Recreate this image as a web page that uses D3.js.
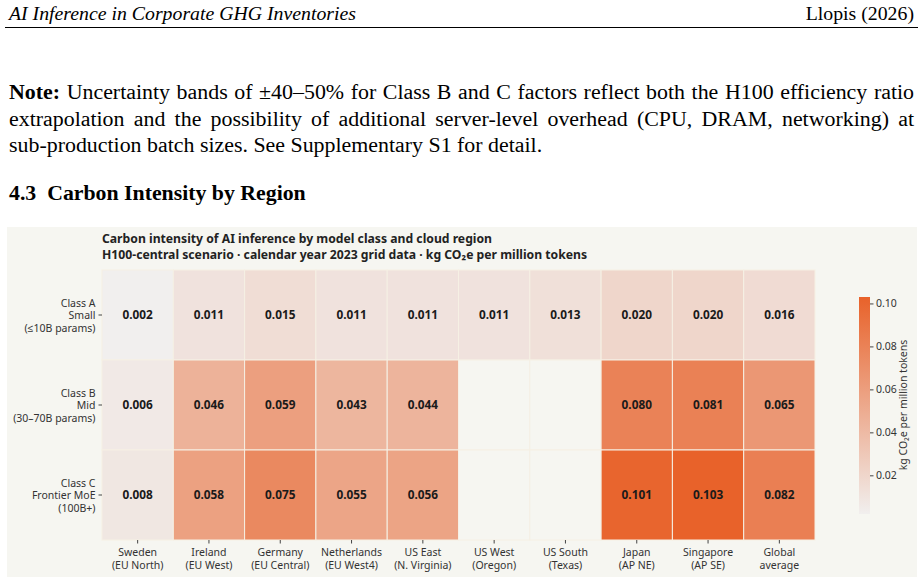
<!DOCTYPE html>
<html>
<head>
<meta charset="utf-8">
<script src="https://cdn.jsdelivr.net/npm/d3@7"></script>
<style>
  html, body { margin: 0; padding: 0; background: #fff; }
  svg { display: block; }
</style>
</head>
<body>
<div id="page"></div>
<script>
// chart data
const regions = [
  ["Sweden", "(EU North)"], ["Ireland", "(EU West)"], ["Germany", "(EU Central)"],
  ["Netherlands", "(EU West4)"], ["US East", "(N. Virginia)"], ["US West", "(Oregon)"],
  ["US South", "(Texas)"], ["Japan", "(AP NE)"], ["Singapore", "(AP SE)"], ["Global", "average"]
];
const classes = [
  ["Class A", "Small", "(≤10B params)"],
  ["Class B", "Mid", "(30–70B params)"],
  ["Class C", "Frontier MoE", "(100B+)"]
];
const classA = [0.002, 0.011, 0.015, 0.011, 0.011, 0.011, 0.013, 0.020, 0.020, 0.016];
const classB = [0.006, 0.046, 0.059, 0.043, 0.044, null, null, 0.080, 0.081, 0.065];
const classC = [0.008, 0.058, 0.075, 0.055, 0.056, null, null, 0.101, 0.103, 0.082];
const colorTicks = [0.02, 0.04, 0.06, 0.08, 0.10];

const noteLines = [
  "Uncertainty bands of ±40–50% for Class B and C factors reflect both the H100 efficiency ratio",
  "extrapolation and the possibility of additional server-level overhead (CPU, DRAM, networking) at",
  "sub-production batch sizes. See Supplementary S1 for detail."
];

const W = 923, H = 577;
const serif = "'Liberation Serif', 'Times New Roman', serif";
const sans = "'Noto Sans', 'Open Sans', sans-serif";

const svg = d3.select('#page').append('svg')
  .attr('width', W)
  .attr('height', H);

// ---- page header ----
svg.append('text')
  .attr('x', 9).attr('y', 20)
  .style('font-family', serif).style('font-style', 'italic').style('font-size', '19.8px')
  .text('AI Inference in Corporate GHG Inventories');
svg.append('text')
  .attr('x', 914).attr('y', 20)
  .attr('text-anchor', 'end')
  .style('font-family', serif).style('font-size', '19.8px')
  .text('Llopis (2026)');
svg.append('line')
  .attr('x1', 5).attr('x2', 918).attr('y1', 27.5).attr('y2', 27.5)
  .attr('stroke', '#000').attr('stroke-width', 1);

// ---- note paragraph, justified by word spacing ----
const noteBase = [99, 126, 152];
noteLines.forEach((line, i) => {
  const t = svg.append('text')
    .attr('x', 9).attr('y', noteBase[i])
    .style('font-family', serif).style('font-size', '21.9px');
  if (i === 0) {
    t.append('tspan').style('font-weight', 'bold').text('Note:');
    t.append('tspan').text(' ' + line);
  } else {
    t.text(line);
  }
  if (i < noteLines.length - 1) {
    const natural = t.node().getComputedTextLength();
    const spaces = (i === 0 ? 'Note: ' + line : line).split(' ').length - 1;
    t.style('word-spacing', ((905 - natural) / spaces) + 'px');
  }
});

// ---- section heading ----
svg.append('text')
  .attr('x', 9).attr('y', 200)
  .attr('xml:space', 'preserve')
  .style('font-family', serif).style('font-weight', 'bold').style('font-size', '21.8px')
  .text('4.3  Carbon Intensity by Region');

// ---- figure ----
const fig = svg.append('g');
fig.append('rect')
  .attr('x', 7).attr('y', 227).attr('width', 910).attr('height', H - 227)
  .attr('fill', '#f6f6f1');

fig.append('text')
  .attr('x', 102).attr('y', 243)
  .style('font-family', sans).style('font-weight', 'bold').style('font-size', '12.2px')
  .style('fill', '#222')
  .text('Carbon intensity of AI inference by model class and cloud region');
fig.append('text')
  .attr('x', 102).attr('y', 258.5)
  .style('font-family', sans).style('font-weight', 'bold').style('font-size', '12.2px')
  .style('fill', '#222')
  .text('H100-central scenario · calendar year 2023 grid data · kg CO₂e per million tokens');

const x = d3.scaleBand()
  .domain(d3.range(regions.length))
  .range([102, 815]);
const y = d3.scaleBand()
  .domain(d3.range(classes.length))
  .range([270, 540]);
const color = d3.scaleLinear()
  .domain([0.002, 0.103])
  .range(['#f1efee', '#e8622a'])
  .interpolate(d3.interpolateRgb);

const rows = [classA, classB, classC];
const cells = [];
rows.forEach((vals, r) => vals.forEach((v, c) => cells.push({ r, c, v })));

fig.selectAll('.cell')
  .data(cells)
  .join('rect')
  .attr('class', 'cell')
  .attr('x', d => x(d.c))
  .attr('y', d => y(d.r))
  .attr('width', x.bandwidth())
  .attr('height', y.bandwidth())
  .attr('fill', d => d.v == null ? '#f6f6f1' : color(d.v))
  .attr('stroke', '#f6f0e4')
  .attr('stroke-width', 1);

fig.selectAll('.val')
  .data(cells.filter(d => d.v != null))
  .join('text')
  .attr('class', 'val')
  .attr('x', d => x(d.c) + x.bandwidth() / 2)
  .attr('y', d => y(d.r) + y.bandwidth() / 2)
  .attr('dy', '0.35em')
  .attr('text-anchor', 'middle')
  .style('font-family', sans).style('font-weight', 'bold').style('font-size', '11.8px')
  .style('fill', '#1a1a1a')
  .text(d => d.v.toFixed(3));

// row labels
const rowAxis = fig.append('g')
  .attr('transform', 'translate(102,0)')
  .call(d3.axisLeft(y).tickSize(3.5).tickFormat(''));
rowAxis.select('.domain').remove();
rowAxis.selectAll('.tick line').attr('stroke', '#444');
rowAxis.selectAll('.tick').each(function(d) {
  const t = d3.select(this).append('text')
    .attr('text-anchor', 'end')
    .style('font-family', sans).style('font-size', '10.5px')
    .style('fill', '#333');
  classes[d].forEach((s, k) => {
    t.append('tspan').attr('x', -6.5).attr('y', (k - 1) * 12.5 + 4).text(s);
  });
});

// column labels
const colAxis = fig.append('g')
  .attr('transform', 'translate(0,540)')
  .call(d3.axisBottom(x).tickSize(3.5).tickFormat(''));
colAxis.select('.domain').remove();
colAxis.selectAll('.tick line').attr('stroke', '#444');
colAxis.selectAll('.tick').each(function(d) {
  const t = d3.select(this).append('text')
    .attr('text-anchor', 'middle')
    .style('font-family', sans).style('font-size', '10.5px')
    .style('fill', '#333');
  regions[d].forEach((s, k) => {
    t.append('tspan').attr('x', 0).attr('y', 16 + k * 12.5).text(s);
  });
});

// ---- colour bar ----
const cScale = d3.scaleLinear()
  .domain(color.domain())
  .range([514, 297]);
const grad = svg.append('defs').append('linearGradient')
  .attr('id', 'cbar')
  .attr('x1', 0).attr('x2', 0).attr('y1', 1).attr('y2', 0);
grad.selectAll('stop')
  .data([0, 1])
  .join('stop')
  .attr('offset', d => d)
  .attr('stop-color', d => color.range()[d]);
fig.append('rect')
  .attr('x', 859).attr('y', 297).attr('width', 11).attr('height', 217)
  .attr('fill', 'url(#cbar)');
const cAxis = fig.append('g')
  .attr('transform', 'translate(870,0)')
  .call(d3.axisRight(cScale).tickValues(colorTicks).tickSize(3.5).tickFormat(d3.format('.2f')));
cAxis.select('.domain').remove();
cAxis.selectAll('.tick line').attr('stroke', '#444');
cAxis.selectAll('.tick text')
  .attr('x', 6)
  .style('font-family', sans).style('font-size', '10.5px')
  .style('fill', '#333');
fig.append('text')
  .attr('transform', 'translate(907,405) rotate(-90)')
  .attr('text-anchor', 'middle')
  .style('font-family', sans).style('font-size', '10.5px')
  .style('fill', '#333')
  .text('kg CO₂e per million tokens');
</script>
</body>
</html>
